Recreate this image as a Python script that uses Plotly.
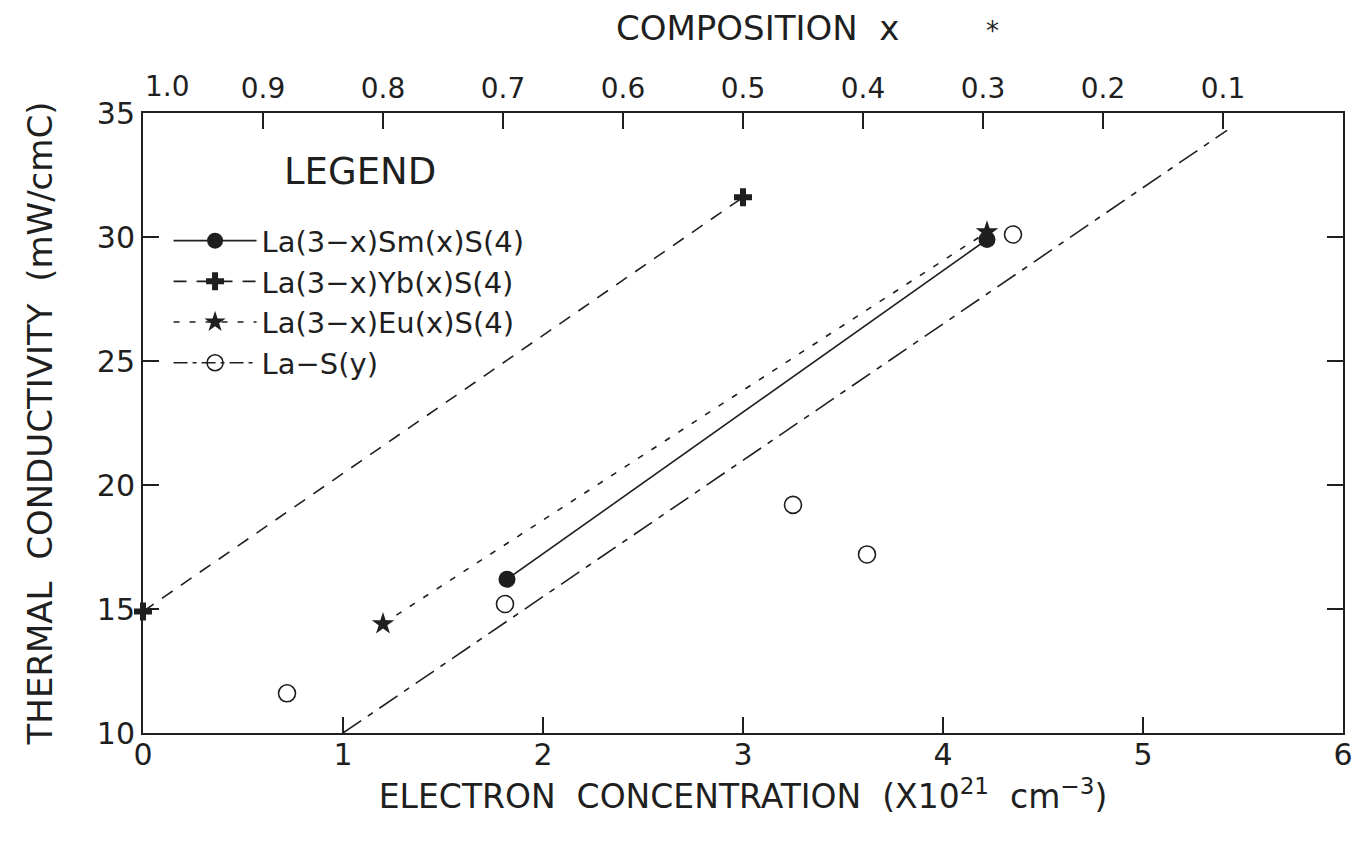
import plotly.graph_objects as go

# Electron concentration (x10^21 cm^-3) and thermal conductivity (mW/cmC)
N_SM = [1.82, 4.22]
K_SM = [16.2, 29.9]

N_YB = [0.0, 3.0]
K_YB = [14.9, 31.6]

N_EU = [1.2, 4.22]
K_EU = [14.4, 30.2]

N_LAS = [0.72, 1.81, 3.25, 3.62, 4.35]
K_LAS = [11.6, 15.2, 19.2, 17.2, 30.1]

# straight-line trend drawn through the La-S(y) data
N_FIT = [1.0, 5.42]
K_FIT = [10.0, 34.3]

X_TICKS = [0, 1, 2, 3, 4, 5, 6]
Y_TICKS = [10, 15, 20, 25, 30, 35]
COMP_TICKS = [1.0, 0.9, 0.8, 0.7, 0.6, 0.5, 0.4, 0.3, 0.2, 0.1]
COMP_LABELS = ["", "0.9", "0.8", "0.7", "0.6", "0.5", "0.4", "0.3", "0.2", "0.1"]
COMP_CORNER_LABEL = "1.0"   # set beside the corner, clear of the "35" label

INK = "#1f1f1f"
FONT = "DejaVu Sans"

fig = go.Figure()

fig.add_trace(go.Scatter(
    x=N_SM, y=K_SM, mode="lines+markers", name="La(3\u2212x)Sm(x)S(4)",
    legendgroup="sm",
    line=dict(color=INK, width=1.6),
    marker=dict(symbol="circle", size=17, color=INK),
    cliponaxis=False,
))
fig.add_trace(go.Scatter(
    x=N_YB, y=K_YB, mode="lines+markers", name="La(3\u2212x)Yb(x)S(4)",
    legendgroup="yb",
    line=dict(color=INK, width=1.6, dash="13px,10px"),
    marker=dict(symbol="cross", size=15, color=INK),
    cliponaxis=False,
))
fig.add_trace(go.Scatter(
    x=N_EU, y=K_EU, mode="lines+markers", name="La(3\u2212x)Eu(x)S(4)",
    legendgroup="eu",
    line=dict(color=INK, width=1.6, dash="6px,10px"),
    marker=dict(symbol="star", size=17, color=INK),
    cliponaxis=False,
))
fig.add_trace(go.Scatter(
    x=N_LAS, y=K_LAS, mode="markers", name="La\u2212S(y)",
    legendgroup="las", showlegend=False,
    marker=dict(symbol="circle-open", size=17, color=INK, line=dict(width=1.6)),
    cliponaxis=False,
))
fig.add_trace(go.Scatter(
    x=N_FIT, y=K_FIT, mode="lines", name="La\u2212S(y)",
    legendgroup="las", showlegend=False,
    line=dict(color=INK, width=1.6, dash="22px,8px,6px,8px"),
))
# legend-only entry combining the open circle with the dash-dot line
fig.add_trace(go.Scatter(
    x=[None], y=[None], mode="lines+markers", name="La\u2212S(y)",
    legendgroup="las",
    line=dict(color=INK, width=1.6, dash="14px,5px,4px,5px"),
    marker=dict(symbol="circle-open", size=17, color=INK, line=dict(width=1.6)),
))

# top composition axis, sharing the plot width with the concentration axis
fig.add_trace(go.Scatter(
    x=[COMP_TICKS[0]], y=[None], xaxis="x2", mode="markers",
    showlegend=False, hoverinfo="skip",
))

fig.update_layout(
    width=1356, height=844,
    margin=dict(l=143, r=13, t=113, b=111, autoexpand=False),
    paper_bgcolor="white", plot_bgcolor="white",
    font=dict(family=FONT, color=INK, size=28),
    showlegend=True,
    legend=dict(
        x=0.0213, y=0.835, xanchor="left", yanchor="top",
        bgcolor="rgba(0,0,0,0)", borderwidth=0,
        font=dict(family=FONT, size=29, color=INK),
        traceorder="grouped", tracegroupgap=0,
        itemwidth=83,
    ),
    xaxis=dict(
        range=[0, 6], tickvals=X_TICKS, ticktext=[str(v) for v in X_TICKS],
        ticks="inside", ticklen=16, tickwidth=1.6, tickcolor=INK,
        showline=True, linecolor=INK, linewidth=2, mirror=True,
        showgrid=False, zeroline=False, automargin=False,
        tickfont=dict(size=30), ticklabelstandoff=-6,
        title=dict(text="ELECTRON  CONCENTRATION  (X10<sup>21</sup>  cm<sup>\u22123</sup>)",
                   font=dict(size=33), standoff=14),
    ),
    xaxis2=dict(
        overlaying="x", side="top", range=[1.0, 0.0],
        tickvals=COMP_TICKS, ticktext=COMP_LABELS,
        ticks="inside", ticklen=16, tickwidth=1.6, tickcolor=INK,
        showline=False, showgrid=False, zeroline=False, automargin=False,
        tickfont=dict(size=28), ticklabelstandoff=8,
    ),
    yaxis=dict(
        range=[10, 35], tickvals=Y_TICKS, ticktext=[str(v) for v in Y_TICKS],
        ticks="inside", ticklen=16, tickwidth=1.6, tickcolor=INK,
        showline=True, linecolor=INK, linewidth=2, mirror="ticks",
        showgrid=False, zeroline=False, automargin=False,
        tickfont=dict(size=30),
        title=dict(text="THERMAL  CONDUCTIVITY  (mW/cmC)", font=dict(size=34), standoff=34),
    ),
    annotations=[
        dict(text=COMP_CORNER_LABEL, xref="paper", yref="paper", x=0.02, y=1.043,
             xanchor="center", yanchor="middle", showarrow=False,
             font=dict(family=FONT, size=28, color=INK)),
        dict(text="LEGEND", xref="paper", yref="paper", x=0.116, y=0.905,
             xanchor="left", yanchor="middle", showarrow=False,
             font=dict(family=FONT, size=37, color=INK)),
        dict(text="COMPOSITION  x", xref="paper", yref="paper", x=0.512, y=1.137,
             xanchor="center", yanchor="middle", showarrow=False,
             font=dict(family=FONT, size=34, color=INK)),
        dict(text="*", xref="paper", yref="paper", x=0.708, y=1.133,
             xanchor="center", yanchor="middle", showarrow=False,
             font=dict(family=FONT, size=26, color=INK)),
    ],
)

fig.write_html("out.html")
